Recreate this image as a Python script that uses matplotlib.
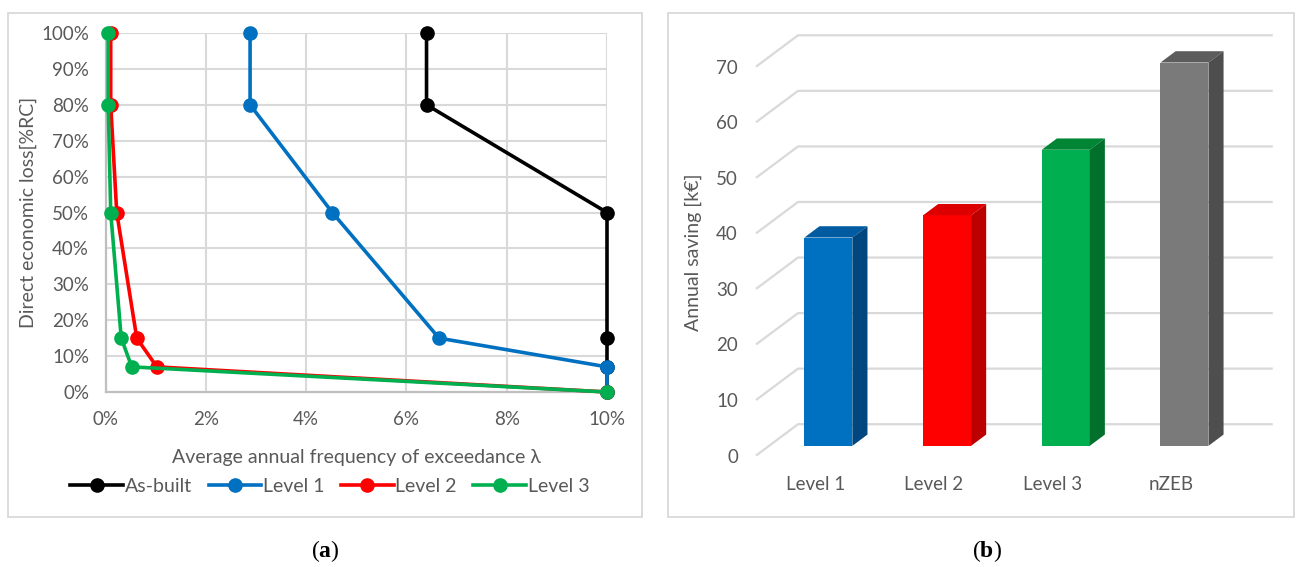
import matplotlib
matplotlib.use("Agg")
import matplotlib.pyplot as plt
from matplotlib.patches import Polygon, Rectangle
from matplotlib.ticker import FuncFormatter

W, H, DPI = 1296, 567, 100

# ---- panel (a): loss vs. annual frequency of exceedance ----
loss_levels = [100, 80, 50, 15, 7, 0]            # direct economic loss [%RC]
freq_asbuilt = [6.4, 6.4, 10.0, 10.0, 10.0, 10.0]  # lambda [%]
freq_level1 = [2.88, 2.88, 4.52, 6.65, 10.0, 10.0]
freq_level2 = [0.10, 0.10, 0.22, 0.62, 1.02, 10.0]
freq_level3 = [0.05, 0.05, 0.10, 0.31, 0.52, 10.0]
series_names = ["As-built", "Level 1", "Level 2", "Level 3"]
series_colors = ["#000000", "#0070C0", "#FF0000", "#00B050"]

# ---- panel (b): annual saving ----
categories = ["Level 1", "Level 2", "Level 3", "nZEB"]
savings = [37.5, 41.5, 53.3, 69.0]               # k€
bar_front = ["#0070C0", "#FF0000", "#00B050", "#7A7A7A"]
bar_top = ["#005BA0", "#DD0000", "#008535", "#5C5C5C"]
bar_side = ["#00467F", "#BC0000", "#00702C", "#4E4E4E"]

TXT = "#595959"
GRID = "#D9D9D9"
plt.rcParams["font.family"] = ["Lato", "DejaVu Sans"]
plt.rcParams["mathtext.fontset"] = "custom"
plt.rcParams["mathtext.rm"] = "Liberation Serif"
plt.rcParams["mathtext.bf"] = "Liberation Serif:bold"

fig = plt.figure(figsize=(W / DPI, H / DPI), dpi=DPI)


def fx(px):
    return px / W


def fy(py):
    return 1 - py / H


# panel frames
for x0, x1 in [(8, 642), (668, 1294)]:
    fig.patches.append(Rectangle((fx(x0), fy(517)), fx(x1 - x0), (517 - 13) / H,
                                 transform=fig.transFigure, fill=False,
                                 edgecolor=GRID, lw=1.3))

# ================= panel (a) =================
L, R, T, B = 105.7, 607, 33, 392
axa = fig.add_axes([fx(L), fy(B), fx(R - L), (B - T) / H])
axa.set_xlim(0, 10)
axa.set_ylim(0, 100)
axa.set_xticks(range(0, 11, 2))
axa.set_yticks(range(0, 101, 10))
axa.xaxis.set_major_formatter(FuncFormatter(lambda v, p: f"{v:.0f}%"))
axa.yaxis.set_major_formatter(FuncFormatter(lambda v, p: f"{v:.0f}%"))
axa.grid(True, color=GRID, lw=1.5)
axa.set_axisbelow(True)
for s in ["top", "right"]:
    axa.spines[s].set_visible(False)
for s in ["left", "bottom"]:
    axa.spines[s].set_color("#BFBFBF")
    axa.spines[s].set_linewidth(1.6)
axa.tick_params(length=0, labelsize=13.5, colors=TXT)
axa.tick_params(axis="y", pad=12)
axa.tick_params(axis="x", pad=14)
axa.set_xlabel("Average annual frequency of exceedance λ", fontsize=14,
               color=TXT, labelpad=15)
axa.set_ylabel("Direct economic loss[%RC]", fontsize=14, color=TXT, labelpad=3)

handles = []
for freq, name, col in zip([freq_asbuilt, freq_level1, freq_level2, freq_level3],
                           series_names, series_colors):
    h, = axa.plot(freq, loss_levels, color=col, lw=2.6, marker="o", ms=9.5,
                  clip_on=False, label=name, zorder=3)
    handles.append(h)

fig.legend(handles=handles, loc="center", bbox_to_anchor=(fx(330), fy(486)),
           ncol=4, frameon=False, fontsize=14, handlelength=2.7,
           handletextpad=0.1, columnspacing=0.85, labelcolor=TXT)

# ================= panel (b) =================
DX, DY = 0.354, 5.65          # full floor depth in data units
F0, F1 = 0.31, 0.67           # bar depth span as a fraction of the floor depth
BW = 0.404
bL, bR, bT, bB = 756, 1272.8, 35.3, 455.6
axb = fig.add_axes([fx(bL), fy(bB), fx(bR - bL), (bB - bT) / H])
axb.set_xlim(-0.5, 3.5 + DX)
axb.set_ylim(0, 70 + DY)
axb.patch.set_visible(False)
for s in axb.spines.values():
    s.set_visible(False)

yt = list(range(0, 71, 10))
for v in yt:
    axb.plot([-0.5, -0.5 + DX, 3.5 + DX], [v, v + DY, v + DY], color=GRID,
             lw=1.6, zorder=1, clip_on=False, solid_capstyle="butt")

xs = list(range(len(categories)))
d = F1 - F0
for i, (val, cf, ct, cs) in enumerate(zip(savings, bar_front, bar_top, bar_side)):
    x0 = i + F0 * DX
    y0 = F0 * DY
    axb.bar(x0, val, width=BW, bottom=y0, color=cf, zorder=3, lw=0)
    xl, xr, top = x0 - BW / 2, x0 + BW / 2, y0 + val
    axb.add_patch(Polygon([(xl, top), (xr, top), (xr + d * DX, top + d * DY),
                           (xl + d * DX, top + d * DY)], closed=True,
                          facecolor=ct, lw=0, zorder=3))
    axb.add_patch(Polygon([(xr, y0), (xr, top), (xr + d * DX, top + d * DY),
                           (xr + d * DX, y0 + d * DY)], closed=True,
                          facecolor=cs, lw=0, zorder=3))

axb.set_yticks(yt)
axb.set_xticks(xs, categories)
axb.tick_params(length=0, labelsize=13.5, colors=TXT)
axb.tick_params(axis="y", pad=13)
axb.tick_params(axis="x", pad=15)
fig.text(fx(693), fy(252), "Annual saving [k€]", rotation=90, ha="center",
         va="center", fontsize=14, color=TXT)

# captions
fig.text(fx(325), fy(551), r"$(\mathbf{a})$", ha="center", va="center",
         fontsize=17, color="black")
fig.text(fx(987), fy(551), r"$(\mathbf{b})$", ha="center", va="center",
         fontsize=17, color="black")

fig.savefig("out.png", dpi=DPI)
